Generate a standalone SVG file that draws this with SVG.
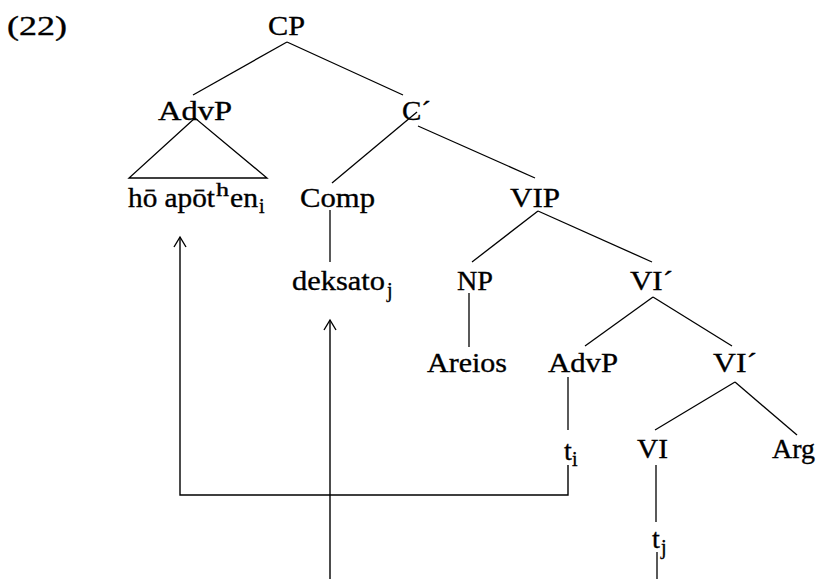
<svg xmlns="http://www.w3.org/2000/svg" width="820" height="579" viewBox="0 0 820 579">
  <style>
    text { font-family: "Liberation Serif", "Times New Roman", serif; font-size: 28px; fill: #000; stroke: #000; stroke-width: 0.35; }
    .sub { font-size: 20px; }
    .sup { font-size: 18px; }
    .edge { stroke: #000; stroke-width: 1.3; fill: none; }
    .move { stroke: #000; stroke-width: 1.4; fill: none; marker-end: url(#head); }
  </style>
  <defs>
    <marker id="head" markerUnits="userSpaceOnUse" markerWidth="16" markerHeight="16" viewBox="-12 -8 14 16" refX="0" refY="0" orient="auto">
      <path d="M-10,-6 L0,0 L-10,6" fill="none" stroke="#000" stroke-width="1.4"/>
    </marker>
  </defs>
  <rect width="820" height="579" fill="#fff"/>

  <!-- example number -->
  <text id="label-22" x="7" y="35" textLength="60" lengthAdjust="spacingAndGlyphs">(22)</text>

  <!-- tree branches -->
  <g id="connectors">
    <line class="edge" x1="287" y1="42" x2="193" y2="95"/>
    <line class="edge" x1="287" y1="42" x2="403" y2="95"/>
    <polygon class="edge" points="195,118 129,178 267,178"/>
    <line class="edge" x1="417" y1="112" x2="332" y2="183"/>
    <line class="edge" x1="418" y1="126" x2="535" y2="178"/>
    <line class="edge" x1="330" y1="210" x2="330" y2="262"/>
    <line class="edge" x1="538" y1="211" x2="472" y2="262"/>
    <line class="edge" x1="538" y1="211" x2="652" y2="262"/>
    <line class="edge" x1="469" y1="293" x2="469" y2="347"/>
    <line class="edge" x1="653" y1="297" x2="585" y2="346"/>
    <line class="edge" x1="653" y1="297" x2="732" y2="346"/>
    <line class="edge" x1="568" y1="377" x2="568" y2="430"/>
    <line class="edge" x1="735" y1="382" x2="655" y2="430"/>
    <line class="edge" x1="735" y1="382" x2="797" y2="435"/>
    <line class="edge" x1="656" y1="465" x2="656" y2="522"/>
    <line class="edge" x1="657" y1="552" x2="657" y2="579"/>
    <!-- movement paths -->
    <path class="move" d="M568,465 V495 H180 V237"/>
    <path class="move" d="M330,579 V320"/>
  </g>

  <g id="CP"><text x="268" y="35" textLength="37" lengthAdjust="spacingAndGlyphs">CP</text></g>
  <g id="AdvP-top"><text x="158" y="120" textLength="74" lengthAdjust="spacingAndGlyphs">AdvP</text></g>
  <g id="C-bar"><text x="402" y="120" textLength="29" lengthAdjust="spacingAndGlyphs">C´</text></g>
  <g id="ho-apothen">
    <text x="128" y="207" textLength="87" lengthAdjust="spacingAndGlyphs">hō apōt</text>
    <text class="sup" x="216" y="196" textLength="13" lengthAdjust="spacingAndGlyphs">h</text>
    <text x="230" y="207" textLength="28" lengthAdjust="spacingAndGlyphs">en</text>
    <text class="sub" x="259" y="213">i</text>
  </g>
  <g id="Comp"><text x="300" y="207" textLength="75" lengthAdjust="spacingAndGlyphs">Comp</text></g>
  <g id="VIP"><text x="510" y="207" textLength="50" lengthAdjust="spacingAndGlyphs">VIP</text></g>
  <g id="deksato">
    <text x="292" y="290" textLength="93" lengthAdjust="spacingAndGlyphs">deksato</text>
    <text class="sub" x="387" y="297">j</text>
  </g>
  <g id="NP"><text x="457" y="290" textLength="36" lengthAdjust="spacingAndGlyphs">NP</text></g>
  <g id="VI-bar-1"><text x="630" y="290" textLength="43" lengthAdjust="spacingAndGlyphs">VI´</text></g>
  <g id="Areios"><text x="427" y="372" textLength="80" lengthAdjust="spacingAndGlyphs">Areios</text></g>
  <g id="AdvP-low"><text x="548" y="372" textLength="70" lengthAdjust="spacingAndGlyphs">AdvP</text></g>
  <g id="VI-bar-2"><text x="713" y="372" textLength="44" lengthAdjust="spacingAndGlyphs">VI´</text></g>
  <g id="t-i">
    <text x="564" y="460">t</text>
    <text class="sub" x="572" y="466">i</text>
  </g>
  <g id="VI"><text x="637" y="458" textLength="31" lengthAdjust="spacingAndGlyphs">VI</text></g>
  <g id="Arg"><text x="772" y="458" textLength="43" lengthAdjust="spacingAndGlyphs">Arg</text></g>
  <g id="t-j">
    <text x="652" y="548">t</text>
    <text class="sub" x="661" y="554">j</text>
  </g>
</svg>
